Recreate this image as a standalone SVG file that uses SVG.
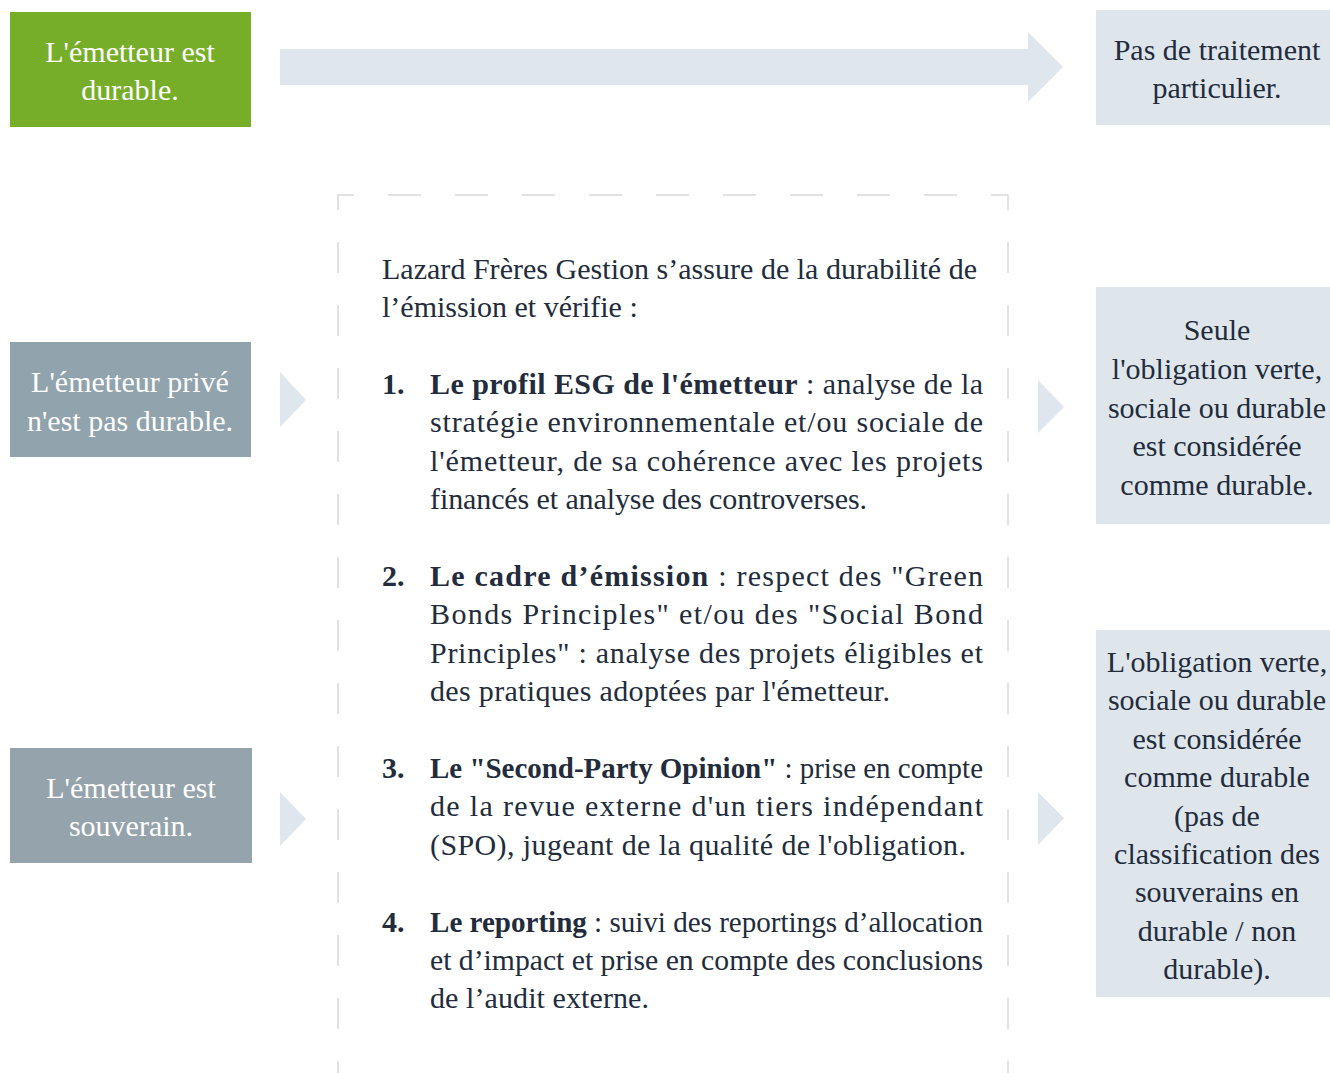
<svg xmlns="http://www.w3.org/2000/svg" width="1330" height="1073" viewBox="0 0 1330 1073">
<style>
text{font-family:"Liberation Serif","Times New Roman",serif;font-size:30px}
.w{fill:#ffffff;text-anchor:middle}
.d{fill:#222c3c}
.c{text-anchor:middle}
.b{font-weight:bold}
.arrow{fill:#dfe6ed}
.dash{stroke:#d9d9d9;stroke-width:1.5;fill:none}
</style>
<rect width="1330" height="1073" fill="#ffffff"/>
<g id="connectors">
<polygon class="arrow" points="280,49 1028,49 1028,32 1063,67 1028,102 1028,85 280,85"/>
<polygon class="arrow" points="280,372 306,400 280,427"/>
<polygon class="arrow" points="280,792 306,819 280,846"/>
<polygon class="arrow" points="1038,380 1064,407 1038,433"/>
<polygon class="arrow" points="1038,792 1064,818 1038,845"/>
</g>
<g id="node-durable">
<rect x="10" y="12" width="241" height="115" fill="#77ae29"/>
<text class="w" x="130" y="62">L'émetteur est</text>
<text class="w" x="130" y="100">durable.</text>
</g>
<g id="node-prive">
<rect x="10" y="342" width="241" height="115" fill="#91a3ad"/>
<text class="w" x="130" y="392">L'émetteur privé</text>
<text class="w" x="130" y="431">n'est pas durable.</text>
</g>
<g id="node-souverain">
<rect x="10" y="748" width="242" height="115" fill="#95a3ac"/>
<text class="w" x="131" y="798">L'émetteur est</text>
<text class="w" x="131" y="836">souverain.</text>
</g>
<g id="node-pas-traitement">
<rect x="1096" y="10" width="234" height="115" fill="#dee6ec"/>
<text class="d c" x="1217" y="60">Pas de traitement</text>
<text class="d c" x="1217" y="98">particulier.</text>
</g>
<g id="node-seule">
<rect x="1096" y="287" width="234" height="237" fill="#dee6ec"/>
<text class="d c" x="1217" y="340">Seule</text>
<text class="d c" x="1217" y="379">l'obligation verte,</text>
<text class="d c" x="1217" y="418">sociale ou durable</text>
<text class="d c" x="1217" y="456">est considérée</text>
<text class="d c" x="1217" y="495">comme durable.</text>
</g>
<g id="node-souverain-result">
<rect x="1096" y="630" width="234" height="367" fill="#dee6ec"/>
<text class="d c" x="1217" y="672">L'obligation verte,</text>
<text class="d c" x="1217" y="710">sociale ou durable</text>
<text class="d c" x="1217" y="749">est considérée</text>
<text class="d c" x="1217" y="787">comme durable</text>
<text class="d c" x="1217" y="826">(pas de</text>
<text class="d c" x="1217" y="864">classification des</text>
<text class="d c" x="1217" y="902">souverains en</text>
<text class="d c" x="1217" y="941">durable / non</text>
<text class="d c" x="1217" y="979">durable).</text>
</g>
<g id="node-verification">
<line class="dash" x1="337" y1="195" x2="1008" y2="195" stroke-dasharray="33 34" stroke-dashoffset="16"/>
<line class="dash" x1="338" y1="195" x2="338" y2="1073" stroke-dasharray="31 32" stroke-dashoffset="16"/>
<line class="dash" x1="1008" y1="195" x2="1008" y2="1073" stroke-dasharray="31 32" stroke-dashoffset="16"/>
<text class="d" x="382" y="279" textLength="595" lengthAdjust="spacing">Lazard Frères Gestion s’assure de la durabilité de</text>
<text class="d" x="382" y="317">l’émission et vérifie :</text>
<text class="d b" x="382" y="394">1.</text>
<text class="d" x="430" y="394" textLength="553" lengthAdjust="spacing"><tspan class="b">Le profil ESG de l'émetteur</tspan> : analyse de la</text>
<text class="d" x="430" y="432" textLength="553" lengthAdjust="spacing">stratégie environnementale et/ou sociale de</text>
<text class="d" x="430" y="471" textLength="553" lengthAdjust="spacing">l'émetteur, de sa cohérence avec les projets</text>
<text class="d" x="430" y="509" textLength="437" lengthAdjust="spacing">financés et analyse des controverses.</text>
<text class="d b" x="382" y="586">2.</text>
<text class="d" x="430" y="586" textLength="553" lengthAdjust="spacing"><tspan class="b">Le cadre d’émission</tspan> : respect des "Green</text>
<text class="d" x="430" y="624" textLength="553" lengthAdjust="spacing">Bonds Principles" et/ou des "Social Bond</text>
<text class="d" x="430" y="663" textLength="553" lengthAdjust="spacing">Principles" : analyse des projets éligibles et</text>
<text class="d" x="430" y="701" textLength="460" lengthAdjust="spacing">des pratiques adoptées par l'émetteur.</text>
<text class="d b" x="382" y="778">3.</text>
<text class="d" x="430" y="778" textLength="553" lengthAdjust="spacingAndGlyphs"><tspan class="b">Le "Second-Party Opinion"</tspan> : prise en compte</text>
<text class="d" x="430" y="816" textLength="553" lengthAdjust="spacing">de la revue externe d'un tiers indépendant</text>
<text class="d" x="430" y="855" textLength="536" lengthAdjust="spacing">(SPO), jugeant de la qualité de l'obligation.</text>
<text class="d b" x="382" y="932">4.</text>
<text class="d" x="430" y="932" textLength="553" lengthAdjust="spacingAndGlyphs"><tspan class="b">Le reporting</tspan> : suivi des reportings d’allocation</text>
<text class="d" x="430" y="970" textLength="553" lengthAdjust="spacingAndGlyphs">et d’impact et prise en compte des conclusions</text>
<text class="d" x="430" y="1008" textLength="219" lengthAdjust="spacing">de l’audit externe.</text>
</g>
</svg>
